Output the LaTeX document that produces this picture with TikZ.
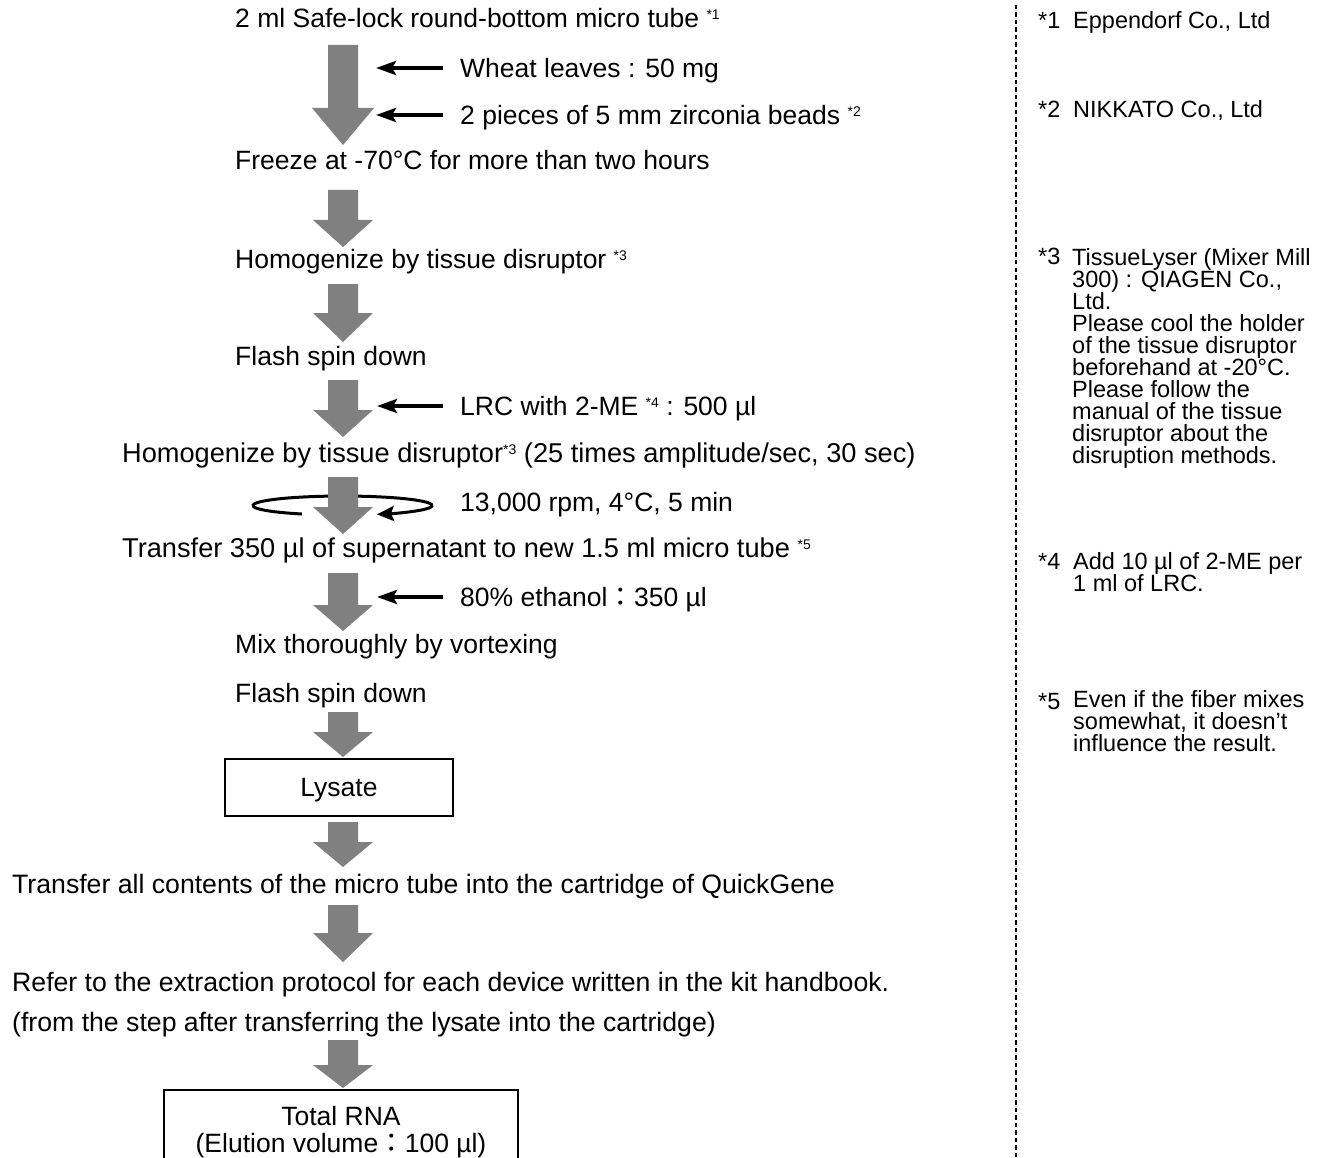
\documentclass[tikz,border=0pt]{standalone}
\usepackage{fontspec}
\setmainfont{Liberation Sans}
\newfontfamily\cjk{Noto Sans CJK JP}
\usetikzlibrary{arrows.meta}
\definecolor{arrgray}{RGB}{128,128,128}
\newcommand\sups[1]{\raisebox{8pt}{\fontsize{14}{14}\selectfont #1}}
\newcommand\fwc{{\cjk ：}}
\newcommand\garrow[5]{%
  \fill[arrgray] (#1-15,#2) -- (#1+15,#2) -- (#1+15,#3) -- (#1+#5,#3)
    -- (#1,#4) -- (#1-#5,#3) -- (#1-15,#3) -- cycle;}
\tikzset{
  txt/.style={anchor=base west, inner sep=0pt, font=\fontsize{26.5}{30}\selectfont},
  wide/.style={font=\fontsize{27.2}{30}\selectfont},
  low/.style={font=\fontsize{26.65}{30}\selectfont},
  note/.style={anchor=base west, inner sep=0pt, align=left, font=\fontsize{23.5}{22}\selectfont},
  sarr/.style={line width=4pt, -{Stealth[length=20pt,width=14pt,inset=4pt]}},
  rot/.style={line width=3pt, -{Stealth[length=17pt,width=15pt,inset=3pt]}},
  resbox/.style={draw, line width=1.8pt, inner sep=0pt, align=center,
    font=\fontsize{26.5}{27}\selectfont},
  sep/.style={line width=1.1pt, dash pattern=on 4.5pt off 3pt}
}
\begin{document}
\begin{tikzpicture}[x=1pt,y=-1pt]
\useasboundingbox (0,0) rectangle (1327,1158);

% main column texts
\node[txt] (t1) at (235,28) {2 ml Safe-lock round-bottom micro tube \sups{*1}};
\node[txt] (s1) at (460,77.4) {Wheat leaves : 50 mg};
\node[txt] (s2) at (460,124.4) {2 pieces of 5 mm zirconia beads \sups{*2}};
\node[txt] (t2) at (235,170) {Freeze at -70°C for more than two hours};
\node[txt] (t3) at (235,269) {Homogenize by tissue disruptor \sups{*3}};
\node[txt] (t4) at (235,365) {Flash spin down};
\node[txt] (s3) at (460,415.4) {LRC with 2-ME \sups{*4} : 500 µl};
\node[txt, wide] (t5) at (122,462) {Homogenize by tissue disruptor\sups{*3} (25 times amplitude/sec, 30 sec)};
\node[txt] (s4) at (460,511) {13,000 rpm, 4°C, 5 min};
\node[txt, wide] (t6) at (122,557) {Transfer 350 µl of supernatant to new 1.5 ml micro tube \sups{*5}};
\node[txt] (s5) at (460,606) {80\% ethanol\fwc 350 µl};
\node[txt] (t7) at (235,653) {Mix thoroughly by vortexing};
\node[txt] (t8) at (235,702) {Flash spin down};
\node[resbox, minimum width=228, minimum height=57, text depth=0pt] (lys) at (339,787.5) {Lysate};
\node[txt, low] (t9) at (12,893) {Transfer all contents of the micro tube into the cartridge of QuickGene};
\node[txt, low] (t10) at (12,991) {Refer to the extraction protocol for each device written in the kit handbook.};
\node[txt, low] (t11) at (12,1031) {(from the step after transferring the lysate into the cartridge)};
\node[resbox, minimum width=354, minimum height=84, anchor=north] (rna) at (341,1089)
  {Total RNA\\(Elution volume\fwc 100 µl)};

% rotation ellipse (behind arrow 5)
\draw[rot] (301.9,514) arc[start angle=117, end angle=427.4, x radius=89.5, y radius=9.5];

% gray flow arrows
\garrow{343}{45}{108}{145}{31}
\garrow{343}{190}{220}{247}{30}
\garrow{343}{284}{313}{342}{30}
\garrow{343}{380}{410}{437}{30}
\garrow{343}{477}{507}{534}{30}
\garrow{343}{573}{605}{631}{30}
\garrow{343}{712}{732}{757}{30}
\garrow{343}{822}{842}{867}{30}
\garrow{343}{905}{933}{962}{30}
\garrow{343}{1040}{1065}{1088}{30}

% side addition arrows
\coordinate (a1) at (443,68);  \coordinate (b1) at (376,68);
\coordinate (a2) at (443,115); \coordinate (b2) at (376,115);
\coordinate (a3) at (443,406); \coordinate (b3) at (377,406);
\coordinate (a4) at (443,597); \coordinate (b4) at (377,597);
\draw[sarr] (a1) -- (b1);
\draw[sarr] (a2) -- (b2);
\draw[sarr] (a3) -- (b3);
\draw[sarr] (a4) -- (b4);

% separator
\draw[sep] (1016,5) -- (1016,1158);

% notes (base anchor of a multi-line node = baseline of its last line)
\node[note] (m1) at (1038,29) {*1};
\node[note] (n1) at (1073,29) {Eppendorf Co., Ltd};
\node[note] (m2) at (1038,118) {*2};
\node[note] (n2) at (1073,118) {NIKKATO Co., Ltd};
\node[note] (m3) at (1038,265) {*3};
\node[note] (n3) at (1072,463) {TissueLyser (Mixer Mill\\300) : QIAGEN Co.,\\Ltd.\\Please cool the holder\\of the tissue disruptor\\beforehand at -20°C.\\Please follow the\\manual of the tissue\\disruptor about the\\disruption methods.};
\node[note] (m4) at (1038,569) {*4};
\node[note] (n4) at (1073,591) {Add 10 µl of 2-ME per\\1 ml of LRC.};
\node[note] (m5) at (1038,709) {*5};
\node[note] (n5) at (1073,751) {Even if the fiber mixes\\somewhat, it doesn't\\influence the result.};
\end{tikzpicture}
\end{document}
